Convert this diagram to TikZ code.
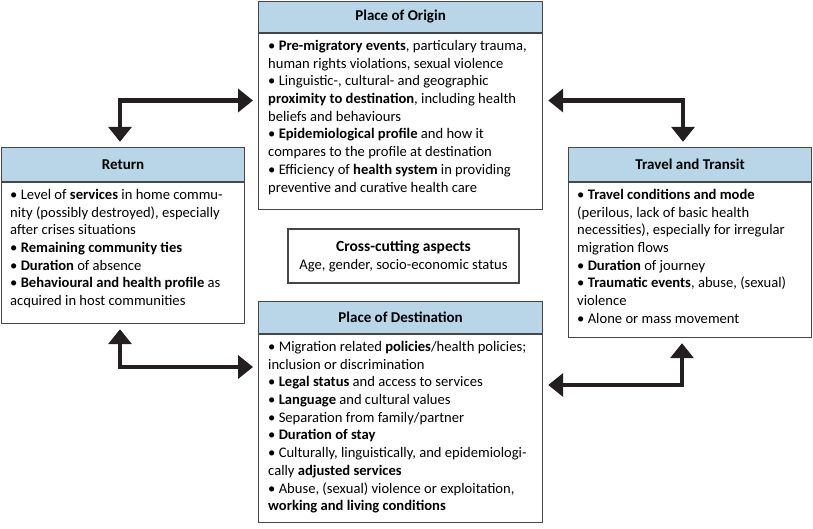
\documentclass[tikz,border=0pt]{standalone}
\usepackage{fontspec}
\setmainfont{Carlito}
\usetikzlibrary{arrows.meta,positioning}
\definecolor{headblue}{RGB}{184,214,232}
\definecolor{framegray}{RGB}{70,70,70}
\definecolor{arrowblack}{RGB}{35,31,32}
\tikzset{
  bodybox/.style={draw=framegray, line width=1.2pt, fill=white, inner sep=0pt, anchor=north west},
  headbox/.style={draw=framegray, line width=1.2pt, fill=headblue, inner sep=0pt, anchor=south west,
    font=\fontsize{15}{18}\selectfont\bfseries},
  bodytext/.style={align=left, inner sep=0pt, anchor=north west,
    font=\fontsize{14.6}{17.7}\selectfont},
  dblarr/.style={draw=arrowblack, line width=4.6pt, {Triangle[length=15pt,width=23pt]}-{Triangle[length=15pt,width=23pt]},
    shorten >=5pt, shorten <=5pt}
}
\begin{document}
\begin{tikzpicture}[x=1pt,y=-1pt]
\useasboundingbox (0,0) rectangle (813,528);

% ------------------------------------------------------------
% Boxes
% ------------------------------------------------------------

% Place of origin
\node[bodybox, minimum width=284pt, minimum height=176pt] (orig) at (258,33) {};
\node[headbox, minimum width=284pt, minimum height=31pt] (orighead) at (orig.north west) {Place of Origin};
\node[bodytext, below right=7pt and 10pt of orig.north west] (origtext) {%
  • \textbf{Pre-migratory events}, particulary trauma,\\
  human rights violations, sexual violence\\
  • Linguistic-, cultural- and geographic\\
  \textbf{proximity to destination}, including health\\
  beliefs and behaviours\\
  • \textbf{Epidemiological profile} and how it\\
  compares to the profile at destination\\
  • Efficiency of \textbf{health system} in providing\\
  preventive and curative health care};

% Return
\node[bodybox, minimum width=243pt, minimum height=141pt] (ret) at (1,182) {};
\node[headbox, minimum width=243pt, minimum height=34pt] (rethead) at (ret.north west) {Return};
\node[bodytext, below right=7pt and 9pt of ret.north west] (rettext) {%
  • Level of \textbf{services} in home commu-\\
  nity (possibly destroyed), especially\\
  after crises situations\\
  • \textbf{Remaining community ties}\\
  • \textbf{Duration} of absence\\
  • \textbf{Behavioural and health profile} as\\
  acquired in host communities};

% Travel and transit
\node[bodybox, minimum width=243pt, minimum height=155pt] (trav) at (568,182) {};
\node[headbox, minimum width=243pt, minimum height=34pt] (travhead) at (trav.north west) {Travel and Transit};
\node[bodytext, below right=7pt and 9pt of trav.north west] (travtext) {%
  • \textbf{Travel conditions and mode}\\
  (perilous, lack of basic health\\
  necessities), especially for irregular\\
  migration flows\\
  • \textbf{Duration} of journey\\
  • \textbf{Traumatic events}, abuse, (sexual)\\
  violence\\
  • Alone or mass movement};

% Place of destination
\node[bodybox, minimum width=284pt, minimum height=188pt] (dest) at (258,334) {};
\node[headbox, minimum width=284pt, minimum height=32pt] (desthead) at (dest.north west) {Place of Destination};
\node[bodytext, below right=7pt and 10pt of dest.north west] (desttext) {%
  • Migration related \textbf{policies}/health policies;\\
  inclusion or discrimination\\
  • \textbf{Legal status} and access to services\\
  • \textbf{Language} and cultural values\\
  • Separation from family/partner\\
  • \textbf{Duration of stay}\\
  • Culturally, linguistically, and epidemiologi-\\
  cally \textbf{adjusted services}\\
  • Abuse, (sexual) violence or exploitation,\\
  \textbf{working and living conditions}};

% Cross-cutting aspects
\node[draw=framegray, line width=1.2pt, minimum width=231pt, minimum height=54pt, align=center,
  font=\fontsize{14.6}{17.7}\selectfont] (cross) at (403.5,256) {%
  {\fontsize{15.5}{18}\selectfont\bfseries Cross-cutting aspects}\\
  Age, gender, socio-economic status};

% ------------------------------------------------------------
% Connectors
% ------------------------------------------------------------

\coordinate (tl) at (120,100.5);
\coordinate (tr) at (683,100.5);
\coordinate (bl) at (120,367);
\coordinate (br) at (682,385);

\draw[dblarr] (rethead.north -| tl) -- (tl) -- (orig.west |- tl);
\draw[dblarr] (orig.east |- tr) -- (tr) -- (travhead.north -| tr);
\draw[dblarr] (ret.south -| bl) -- (bl) -- (dest.west |- bl);
\draw[dblarr] (dest.east |- br) -- (br) -- (trav.south -| br);

\end{tikzpicture}
\end{document}
